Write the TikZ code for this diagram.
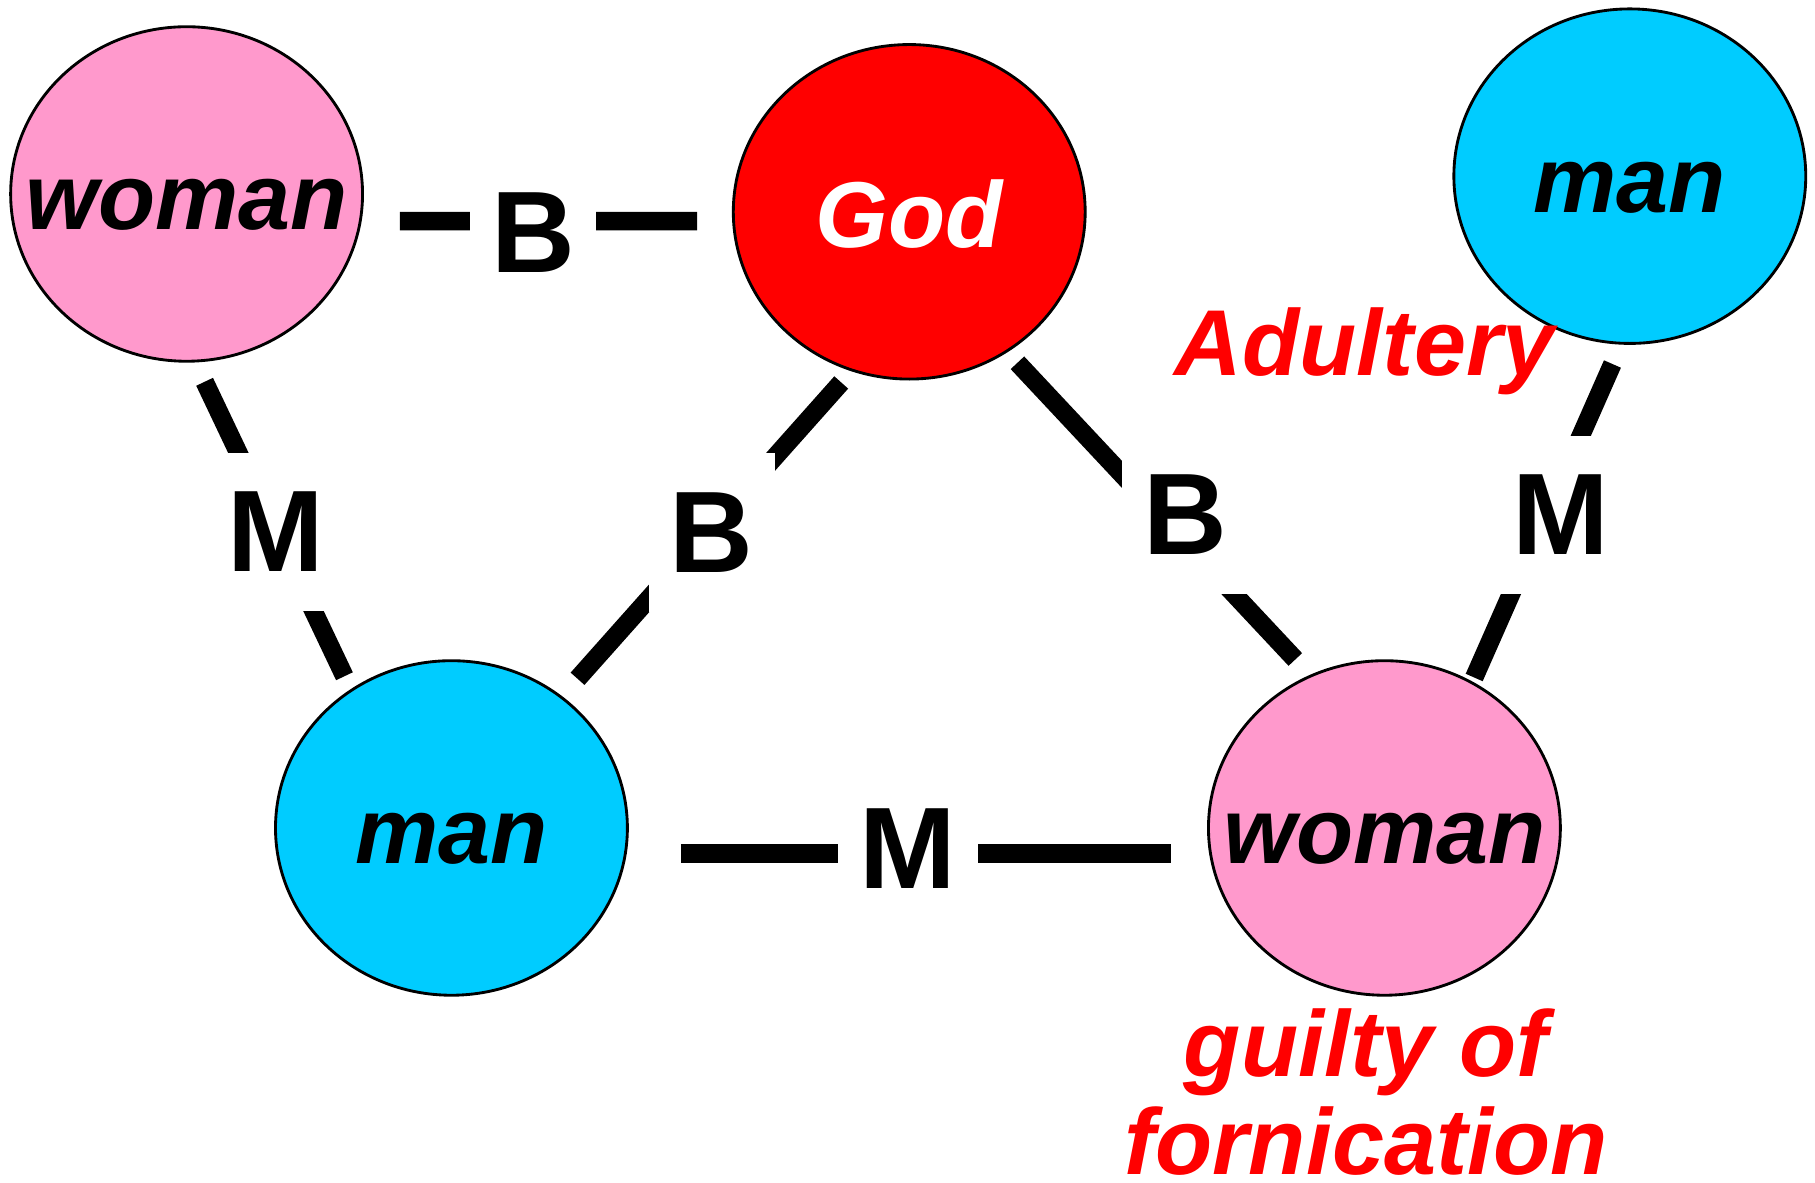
\documentclass[tikz,border=0pt]{standalone}
\usepackage{fontspec}
\usetikzlibrary{shapes.geometric}
\newfontfamily\arialfont{Liberation Sans}
\definecolor{pinkfill}{HTML}{FF99CC}
\definecolor{bluefill}{HTML}{00CCFF}
\definecolor{godred}{HTML}{FF0000}

\begin{document}
\begin{tikzpicture}[
    person/.style={ellipse, draw=black, line width=0.7pt, minimum width=3.04cm, minimum height=2.89cm, inner sep=0pt},
    persontext/.style={font=\arialfont\bfseries\itshape\fontsize{23}{24}\selectfont, text height=0.62cm, text depth=0pt, inner sep=0pt},
    link/.style={line width=0.16cm},
    rel/.style={fill=white, font=\arialfont\bfseries\fontsize{28.5}{30}\selectfont, inner xsep=0.185cm, inner ysep=0.341cm},
    remark/.style={text=godred, font=\arialfont\bfseries\itshape\fontsize{23}{24.1}\selectfont, inner sep=0pt}
]
    \useasboundingbox (0,0) rectangle (15.68,10.22);

    % 五个人物
    \node[person, fill=pinkfill, label={[persontext]center:woman}] (wtl) at (1.612,8.544) {};
    \node[person, fill=godred, label={[persontext, text=white]center:God}] (god) at (7.855,8.39) {};
    \node[person, fill=bluefill, label={[persontext]center:man}] (mtr) at (14.08,8.698) {};
    \node[person, fill=bluefill, label={[persontext]center:man}] (mbl) at (3.90,3.067) {};
    \node[person, fill=pinkfill, label={[persontext]center:woman}] (wbr) at (11.96,3.067) {};

    % 连线
\draw[link, shorten <=0.31cm, shorten >=0.30cm] ([yshift=-0.234cm]wtl.east) -- ([yshift=-0.08cm]god.west) node[rel, pos=0.46, yshift=-0.1cm] (b1) {B};
\draw[link, shorten <=0.449cm, shorten >=0.309cm] ([yshift=-0.222cm]mbl.east) -- ([yshift=-0.222cm]wbr.west) node[rel, pos=0.483, yshift=0.042cm] (m3) {M};
\draw[link, shorten <=0.185cm, shorten >=0.124cm] (wtl.-87) -- (mbl.126.5) node[rel, pos=0.519] (m1) {M};
\draw[link, shorten <=0.13cm, shorten >=0.201cm] (god.-110.8) -- (mbl.50.4) node[rel, pos=0.497, xshift=0.037cm] (b2) {B};
\draw[link, shorten <=0.125cm, shorten >=0.183cm] (god.-55.5) -- (wbr.116.1) node[rel, pos=0.502, xshift=0.223cm] (b3) {B};
\draw[link, shorten <=0.183cm, shorten >=0.038cm] (mtr.-93.1) -- (wbr.59.3) node[rel, pos=0.506, xshift=0.127cm] (m2) {M};

    % 红字
    \node[remark, anchor=base] (adultery) at (11.79,6.974) {Adultery};
    \node[remark, anchor=south, align=center] (guilty) at (11.80,0.06) {guilty of\\fornication};

\end{tikzpicture}
\end{document}
